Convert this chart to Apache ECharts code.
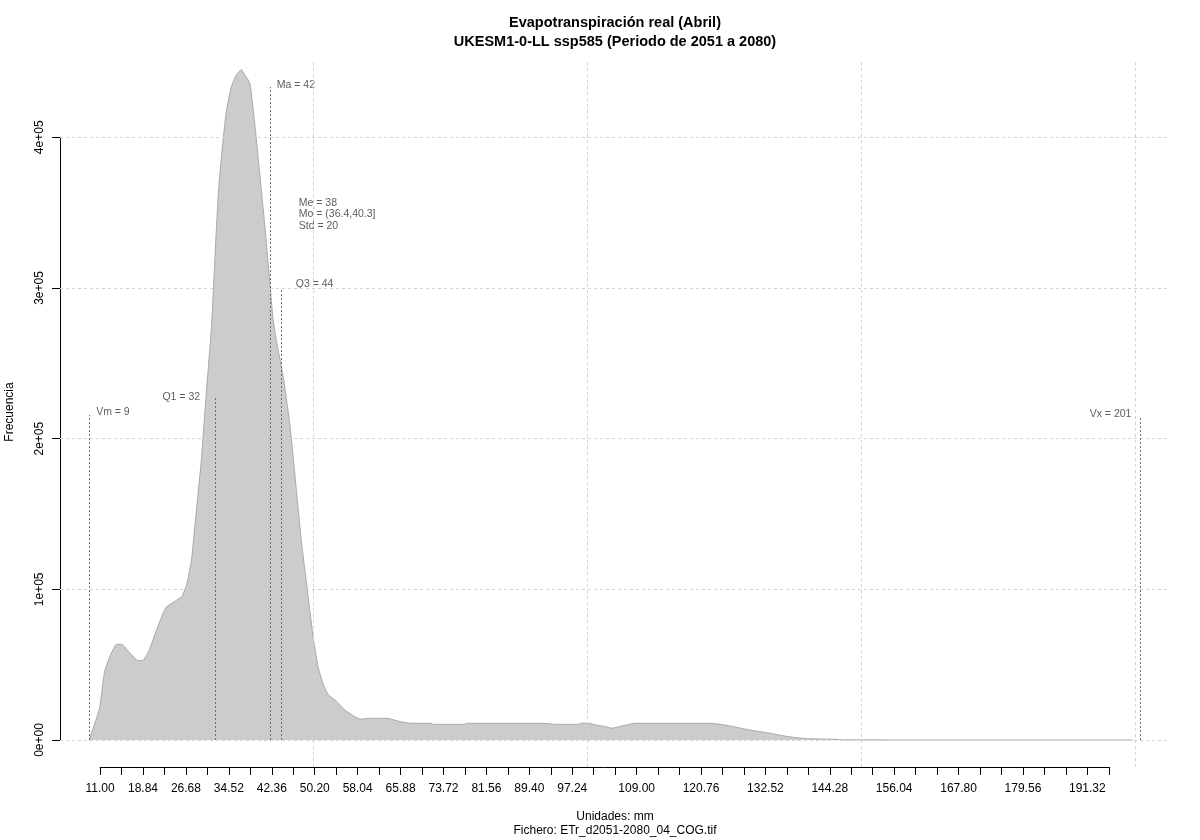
<!DOCTYPE html>
<html>
<head>
<meta charset="utf-8">
<script src="https://cdn.jsdelivr.net/npm/echarts@6/dist/echarts.min.js"></script>
<style>
html,body{margin:0;padding:0;background:#fff;}
#chart{width:1200px;height:840px;}
</style>
</head>
<body>
<div id="chart"></div>
<script>
// ---------------- data ----------------
const titleLines = ['Evapotranspiración real (Abril)', 'UKESM1-0-LL ssp585 (Periodo de 2051 a 2080)'];
const xAxisTitle = 'Unidades: mm';
const fileCaption = 'Fichero: ETr_d2051-2080_04_COG.tif';
const yAxisTitle = 'Frecuencia';

const densityX = [9, 10.9, 11.8, 12.8, 14.0, 14.9, 16.4, 17.9, 18.9, 20.0, 21.3, 23.0, 24.3, 25.9, 26.8, 27.7,
  28.3, 29.5, 30.4, 31.35, 31.96, 32.6, 33.4, 34.1, 35.0, 35.9, 36.8, 37.4, 38.35, 39.3, 40.2, 41.1, 41.9,
  42.6, 43.5, 44.45, 45.7, 46.9, 47.8, 48.7, 49.0, 49.9, 50.8, 51.8, 52.7, 53.9, 55.7, 57.3, 58.5,
  60.6, 63.4, 65.8, 67.6, 71.3, 71.9, 77.4, 78.0, 91.4, 94.4, 98.4, 98.7, 100.2, 101.5, 103.3, 104.5,
  106.3, 108.8, 122.5, 124.3, 126.1, 128.0, 130.4, 133.5, 135.9, 138.3, 140.2, 145.3, 146.5, 160, 180, 199.6];
const densityY = [0, 21000, 45000, 55500, 63500, 63500, 58000, 52700, 53100, 59800, 73000, 87900, 91200, 95200, 102900, 119500,
  141600, 185900, 230200, 274400, 318700, 363000, 396200, 418300, 433800, 441600, 444900, 441600, 436000, 407200, 374000, 340800, 307600,
  278900, 259000, 241200, 208000, 163800, 130600, 104000, 95000, 68600, 48700, 36500, 29900, 26600, 19900, 15900, 13900,
  14400, 14400, 12200, 11100, 11100, 10400, 10400, 11100, 11100, 10400, 10400, 11100, 11100, 10000, 8900, 7800,
  9300, 11100, 11100, 10400, 9300, 7800, 6200, 4400, 2700, 1500, 900, 450, 100, 0, 0, 0];

// summary statistics: name, value, height of the marker line top
const statNames = ['Vm', 'Q1', 'Ma', 'Q3', 'Vx'];
const statValues = [9, 32, 42, 44, 201];
const statLineTops = [215700, 227000, 433400, 300000, 215000];
const summaryText = ['Me = 38', 'Mo = (36.4,40.3]', 'Std = 20'];
const summaryAnchor = [44, 348800];

// axis ticks
const xTickStart = 11;
const xTickStep = 3.92;
const xTickCount = 48;
const xTickLabels = ['11.00', '18.84', '26.68', '34.52', '42.36', '50.20', '58.04', '65.88', '73.72', '81.56', '89.40', '97.24',
  '109.00', '120.76', '132.52', '144.28', '156.04', '167.80', '179.56', '191.32'];
const yTickValues = [0, 100000, 200000, 300000, 400000];
const yTickLabels = ['0e+00', '1e+05', '2e+05', '3e+05', '4e+05'];
const xGridValues = [50, 100, 150, 200];

// ---------------- chart ----------------
const FONT = '"Liberation Sans", Arial, sans-serif';
const chart = echarts.init(document.getElementById('chart'), null, {renderer: 'canvas'});

const labelStyle = {
  Vm: {position: 'right', distance: 7, offset: [0, -3]},
  Q1: {position: 'left', distance: 15, offset: [0, -1]},
  Ma: {position: 'right', distance: 7, offset: [0, -2]},
  Q3: {position: 'right', distance: 15, offset: [0, -4]},
  Vx: {position: 'left', distance: 9, offset: [0, -2]}
};

const annotLines = statNames.map((n, i) => [
  {coord: [statValues[i], 0]},
  {coord: [statValues[i], statLineTops[i]]}
]);
const annotPoints = statNames.map((n, i) => ({
  value: [statValues[i], statLineTops[i]],
  label: Object.assign({show: true, formatter: n + ' = ' + statValues[i]}, labelStyle[n])
}));
annotPoints.push({
  value: summaryAnchor,
  label: {show: true, formatter: summaryText.join('\n'), position: 'right', distance: 18, lineHeight: 11.5, align: 'left'}
});

const gridLineData = xGridValues.map(v => ({xAxis: v})).concat(yTickValues.map(v => ({yAxis: v})));

const option = {
  animation: false,
  backgroundColor: '#ffffff',
  textStyle: {fontFamily: FONT},
  grid: [
    {left: 60, right: 30, top: 62, bottom: 73},
    {left: 100.1, right: 91.2, top: 766, height: 1},
    {left: 60, width: 1, top: 137.3, height: 602.7}
  ],
  xAxis: [
    {gridIndex: 0, type: 'value', min: 3.68, max: 206.4, show: false},
    {gridIndex: 1, type: 'value', min: 0, max: xTickCount - 1, interval: 1,
      axisLine: {show: true, lineStyle: {color: '#000', width: 1}},
      axisTick: {show: true, length: 8, lineStyle: {color: '#000'}},
      splitLine: {show: false},
      axisLabel: {show: true, margin: 16, color: '#000', fontSize: 12, fontFamily: FONT,
        formatter: k => {
          const v = (xTickStart + k * xTickStep).toFixed(2);
          return xTickLabels.indexOf(v) >= 0 ? v : '';
        }}
    },
    {gridIndex: 2, type: 'value', show: false, min: 0, max: 1}
  ],
  yAxis: [
    {gridIndex: 0, type: 'value', min: -17919, max: 449970, show: false},
    {gridIndex: 1, type: 'value', show: false, min: 0, max: 1},
    {gridIndex: 2, type: 'value', min: 0, max: 400000, interval: 100000, position: 'left',
      axisLine: {show: true, lineStyle: {color: '#000', width: 1}},
      axisTick: {show: true, length: 8, lineStyle: {color: '#000'}},
      splitLine: {show: false},
      axisLabel: {show: true, rotate: 90, margin: 14, color: '#000', fontSize: 12, fontFamily: FONT,
        formatter: v => yTickLabels[yTickValues.indexOf(v)]}
    }
  ],
  series: [
    {
      name: 'grid', type: 'line', xAxisIndex: 0, yAxisIndex: 0, data: [], z: 1, silent: true,
      markLine: {silent: true, symbol: 'none', label: {show: false}, animation: false,
        lineStyle: {color: '#d3d3d3', type: [3, 3], width: 1}, data: gridLineData}
    },
    {
      name: 'density', type: 'line', xAxisIndex: 0, yAxisIndex: 0, z: 2, showSymbol: false, smooth: 0.15,
      data: densityX.map((x, i) => [x, densityY[i]]),
      lineStyle: {color: '#a9a9a9', width: 1},
      areaStyle: {color: '#cccccc', opacity: 1}
    },
    {
      name: 'stats', type: 'scatter', xAxisIndex: 0, yAxisIndex: 0, z: 3, symbolSize: 0,
      data: annotPoints,
      label: {color: '#333333', fontSize: 10.5, fontFamily: FONT},
      markLine: {silent: true, symbol: 'none', label: {show: false}, animation: false,
        lineStyle: {color: '#6e6e6e', type: [2, 2], width: 1}, data: annotLines}
    }
  ],
  graphic: [
    {type: 'text', x: 615, y: 23, z: 10,
      style: {text: titleLines[0], fill: '#000', font: 'bold 14.5px ' + FONT, align: 'center', verticalAlign: 'middle', textAlign: 'center', textVerticalAlign: 'middle'}},
    {type: 'text', x: 615, y: 42, z: 10,
      style: {text: titleLines[1], fill: '#000', font: 'bold 14.5px ' + FONT, align: 'center', verticalAlign: 'middle', textAlign: 'center', textVerticalAlign: 'middle'}},
    {type: 'text', x: 615, y: 817, z: 10,
      style: {text: xAxisTitle, fill: '#000', font: '12px ' + FONT, align: 'center', verticalAlign: 'middle', textAlign: 'center', textVerticalAlign: 'middle'}},
    {type: 'text', x: 615, y: 831, z: 10,
      style: {text: fileCaption, fill: '#000', font: '12px ' + FONT, align: 'center', verticalAlign: 'middle', textAlign: 'center', textVerticalAlign: 'middle'}},
    {type: 'text', x: 10, y: 412, rotation: Math.PI / 2, z: 10,
      style: {text: yAxisTitle, fill: '#000', font: '12px ' + FONT, align: 'center', verticalAlign: 'middle', textAlign: 'center', textVerticalAlign: 'middle'}}
  ]
};
chart.setOption(option);
</script>
</body>
</html>
